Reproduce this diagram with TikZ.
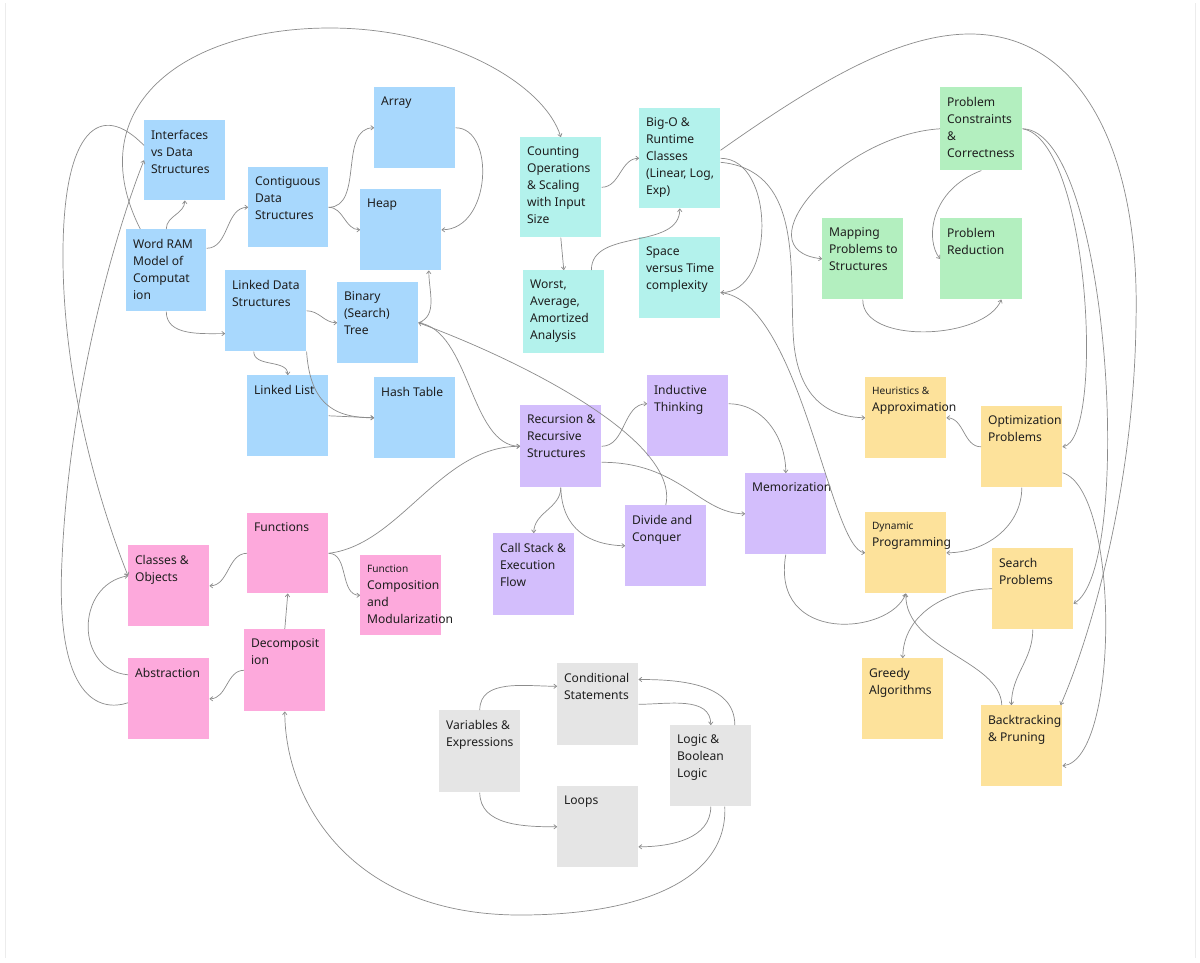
\documentclass[tikz,border=0pt]{standalone}
\usepackage{fontspec}
\setmainfont{Noto Sans}
\usetikzlibrary{arrows.meta}

% sticky note: name, x, y, width, height, colour, text
\newcommand{\stickynote}[7]{%
    \node[note,fill=#6,minimum width=#4*0.025cm,minimum height=#5*0.025cm] (#1) at (#2,#3) {};
    \node[notetext] (#1-t) at (#1.north west) {#7};
}
\newcommand{\smallfont}{\fontsize{7.2}{10.8}\selectfont}

\definecolor{dsblue}{HTML}{A8D8FD}
\definecolor{cxteal}{HTML}{B3F2EC}
\definecolor{pbgreen}{HTML}{B3EFBF}
\definecolor{alyellow}{HTML}{FDE29B}
\definecolor{rcpurple}{HTML}{D3BEFC}
\definecolor{fnpink}{HTML}{FDA9DC}
\definecolor{bsgrey}{HTML}{E5E5E5}
\definecolor{inkline}{HTML}{8C8C8C}
\definecolor{inktext}{HTML}{1E1E1E}

\begin{document}
\begin{tikzpicture}[
    x=0.025cm,y=-0.025cm,
    note/.style={anchor=north west,inner sep=0,draw=none},
    notetext/.style={anchor=north west,inner sep=0,xshift=0.17cm,yshift=-0.24cm,
        align=left,text=inktext,font=\fontsize{8.6}{12.1}\selectfont},
    conn/.style={draw=inkline,line width=0.5pt,-{To[length=2.5pt,width=3.5pt]}},
    ]
    \useasboundingbox (0,0) rectangle (1200,962);
    \fill[white] (0,0) rectangle (1200,962);
    \draw[gray!15] (5,3) -- (5,958) (1195,3) -- (1195,958);

    % Data structures
    \stickynote{iface}{144}{120}{81}{80}{dsblue}{Interfaces\\vs Data\\Structures}
    \stickynote{wordram}{126}{229}{80}{82}{dsblue}{Word RAM\\Model of\\Computat\\ion}
    \stickynote{contig}{248}{167}{80}{80}{dsblue}{Contiguous\\Data\\Structures}
    \stickynote{array}{374}{87}{81}{81}{dsblue}{Array}
    \stickynote{heap}{360}{189}{81}{81}{dsblue}{Heap}
    \stickynote{linked}{225}{270}{81}{81}{dsblue}{Linked Data\\Structures}
    \stickynote{bst}{337}{282}{81}{81}{dsblue}{Binary\\(Search)\\Tree}
    \stickynote{llist}{247}{375}{81}{81}{dsblue}{Linked List}
    \stickynote{hash}{374}{377}{81}{81}{dsblue}{Hash Table}

    % Complexity
    \stickynote{count}{520}{137}{81}{100}{cxteal}{Counting\\Operations\\\& Scaling\\with Input\\Size}
    \stickynote{bigo}{639}{108}{81}{100}{cxteal}{Big-O \&\\Runtime\\Classes\\(Linear, Log,\\Exp)}
    \stickynote{worst}{523}{270}{81}{83}{cxteal}{Worst,\\Average,\\Amortized\\Analysis}
    \stickynote{space}{639}{237}{81}{81}{cxteal}{Space\\versus Time\\complexity}

    % Problem solving
    \stickynote{constr}{940}{87}{82}{83}{pbgreen}{Problem\\Constraints\\\&\\Correctness}
    \stickynote{mapping}{822}{218}{81}{81}{pbgreen}{Mapping\\Problems to\\Structures}
    \stickynote{reduct}{940}{218}{82}{81}{pbgreen}{Problem\\Reduction}

    % Algorithms
    \stickynote{heur}{865}{377}{81}{81}{alyellow}{\smallfont Heuristics \&\\Approximation}
    \stickynote{optim}{981}{406}{81}{81}{alyellow}{Optimization\\Problems}
    \stickynote{dp}{865}{512}{81}{81}{alyellow}{\smallfont Dynamic\\Programming}
    \stickynote{search}{992}{548}{81}{81}{alyellow}{Search\\Problems}
    \stickynote{greedy}{862}{658}{81}{81}{alyellow}{Greedy\\Algorithms}
    \stickynote{backtr}{981}{705}{81}{81}{alyellow}{Backtracking\\\& Pruning}

    % Recursion
    \stickynote{recur}{520}{405}{81}{82}{rcpurple}{Recursion \&\\Recursive\\Structures}
    \stickynote{induct}{647}{375}{81}{81}{rcpurple}{Inductive\\Thinking}
    \stickynote{memo}{745}{473}{81}{81}{rcpurple}{Memorization}
    \stickynote{divide}{625}{505}{81}{81}{rcpurple}{Divide and\\Conquer}
    \stickynote{callst}{493}{533}{81}{82}{rcpurple}{Call Stack \&\\Execution\\Flow}

    % Functions
    \stickynote{funcs}{247}{513}{81}{80}{fnpink}{Functions}
    \stickynote{funccomp}{360}{555}{81}{80}{fnpink}{\smallfont Function\\Composition\\and\\Modularization}
    \stickynote{classes}{128}{545}{81}{81}{fnpink}{Classes \&\\Objects}
    \stickynote{abstr}{128}{658}{81}{81}{fnpink}{Abstraction}
    \stickynote{decomp}{244}{629}{81}{82}{fnpink}{Decomposit\\ion}

    % Basics
    \stickynote{condst}{557}{663}{81}{82}{bsgrey}{Conditional\\Statements}
    \stickynote{vars}{439}{710}{81}{82}{bsgrey}{Variables \&\\Expressions}
    \stickynote{logic}{670}{725}{81}{81}{bsgrey}{Logic \&\\Boolean\\Logic}
    \stickynote{loops}{557}{786}{81}{81}{bsgrey}{Loops}

    % Data structure links
    \draw[conn] (wordram.north) to[out=90,in=-90] (iface.south);
    \draw[conn] ([yshift=0.55cm]wordram.east) to[out=0,in=180] (contig.west);
    \draw[conn] (wordram.south) to[out=-90,in=180] ([yshift=-0.57cm]linked.west);
    \draw[conn] ([xshift=-0.65cm]wordram.north) .. controls (80,110) and (180,28) .. (330,28)
        .. controls (450,28) and (545,85) .. (count.north);
    \draw[conn] (contig.east) to[out=0,in=180] (array.west);
    \draw[conn] (contig.east) to[out=0,in=180] (heap.west);
    \draw[conn] (array.east) .. controls +(40,0) and +(50,0) .. (heap.east);
    \draw[conn] (linked.east) to[out=0,in=180] (bst.west);
    \draw[conn] ([xshift=-0.3cm]linked.south) to[out=-90,in=90] (llist.north);
    \draw[conn] (linked.south east) .. controls (310,400) and (330,418) .. (hash.west);
    \draw[conn] (llist.east) -- (hash.west);
    \draw[conn] (bst.east) to[out=20,in=-90] ([xshift=0.7cm]heap.south);
    \draw[conn] (divide.north) .. controls (680,440) and (520,360) .. (bst.east);
    \draw[conn] (bst.east) .. controls (470,330) and (470,446) .. (recur.west);

    % Complexity links
    \draw[conn] (count.east) to[out=0,in=180] (bigo.west);
    \draw[conn] (count.south) -- (worst.north);
    \draw[conn] ([xshift=0.69cm]worst.north) to[out=90,in=-90] (bigo.south);
    \draw[conn] (bigo.east) .. controls +(55,0) and +(55,0) .. ([yshift=-0.37cm]space.east);
    \draw[conn] ([yshift=0.2cm]bigo.east) .. controls (820,80) and (900,34) .. (970,34)
        .. controls (1080,34) and (1140,150) .. (1136,320)
        .. controls (1134,500) and (1085,650) .. ([xshift=-0.05cm]backtr.north east);
    \draw[conn] ([yshift=-0.1cm]bigo.east) .. controls (800,170) and (790,260) .. (793,330)
        .. controls (795,400) and (830,417) .. (heur.west);
    \draw[conn] ([yshift=-0.37cm]space.east) .. controls (800,300) and (830,550) .. (dp.west);

    % Problem solving links
    \draw[conn] (constr.west) .. controls (840,135) and (740,250) .. (mapping.west);
    \draw[conn] (constr.south) .. controls (930,190) and (925,240) .. (reduct.west);
    \draw[conn] (mapping.south) .. controls (862,345) and (985,340) .. ([xshift=0.5cm]reduct.south);
    \draw[conn] (constr.east) .. controls (1090,140) and (1105,440) .. (optim.east);
    \draw[conn] (constr.east) .. controls (1110,130) and (1135,570) .. ([yshift=-0.37cm]search.east);

    % Algorithm links
    \draw[conn] (optim.west) to[out=180,in=0] (heur.east);
    \draw[conn] (optim.south) to[out=-90,in=0] (dp.east);
    \draw[conn] ([yshift=-0.65cm]optim.east) .. controls (1120,490) and (1120,760) .. ([yshift=-0.5cm]backtr.east);
    \draw[conn] (search.west) to[out=180,in=90] (greedy.north);
    \draw[conn] (search.south) to[out=-90,in=90] ([xshift=-0.26cm]backtr.north);
    \draw[conn] ([xshift=-0.5cm]backtr.north) .. controls (1000,660) and (905,650) .. (dp.south);
    \draw[conn] (memo.south) .. controls (770,645) and (890,635) .. (dp.south);

    % Recursion links
    \draw[conn] ([yshift=0.3cm]induct.east) to[out=0,in=90] (memo.north);
    \draw[conn] (recur.east) to[out=0,in=180] ([yshift=0.3cm]induct.west);
    \draw[conn] ([yshift=-0.4cm]recur.east) .. controls (680,462) and (700,514) .. (memo.west);
    \draw[conn] (recur.south) to[out=-90,in=90] (callst.north);
    \draw[conn] (recur.south) .. controls (562,530) and (590,545) .. (divide.west);

    % Function links
    \draw[conn] (funcs.east) .. controls (400,545) and (440,446) .. (recur.west);
    \draw[conn] (funcs.east) to[out=0,in=180] (funccomp.west);
    \draw[conn] (funcs.west) to[out=180,in=0] (classes.east);
    \draw[conn] (decomp.north) -- (funcs.south);
    \draw[conn] (decomp.west) to[out=180,in=0] (abstr.east);
    \draw[conn] ([yshift=0.6cm]abstr.west) .. controls (75,670) and (75,585) .. ([yshift=0.25cm]classes.west);
    \draw[conn] ([yshift=-0.1cm]abstr.west) .. controls (100,712) and (55,700) .. (62,560)
        .. controls (70,380) and (120,220) .. (iface.west);
    \draw[conn,{To[length=2.5pt,width=3.5pt]}-] ([yshift=0.25cm]classes.west) .. controls (90,480) and (62,360) .. (63,250)
        .. controls (64,130) and (100,100) .. ([yshift=0.37cm]iface.west);

    % Basics links
    \draw[conn] (vars.north) to[out=90,in=180] ([yshift=0.45cm]condst.west);
    \draw[conn] (vars.south) to[out=-90,in=180] (loops.west);
    \draw[conn] (condst.east) to[out=0,in=90] (logic.north);
    \draw[conn] ([xshift=0.6cm]logic.north) to[out=90,in=0] ([yshift=0.62cm]condst.east);
    \draw[conn] (logic.south) to[out=-90,in=0] ([yshift=-0.5cm]loops.east);
    \draw[conn] ([xshift=0.35cm]logic.south) .. controls (728,880) and (640,915) .. (520,915)
        .. controls (350,915) and (285,800) .. (decomp.south);
\end{tikzpicture}
\end{document}
